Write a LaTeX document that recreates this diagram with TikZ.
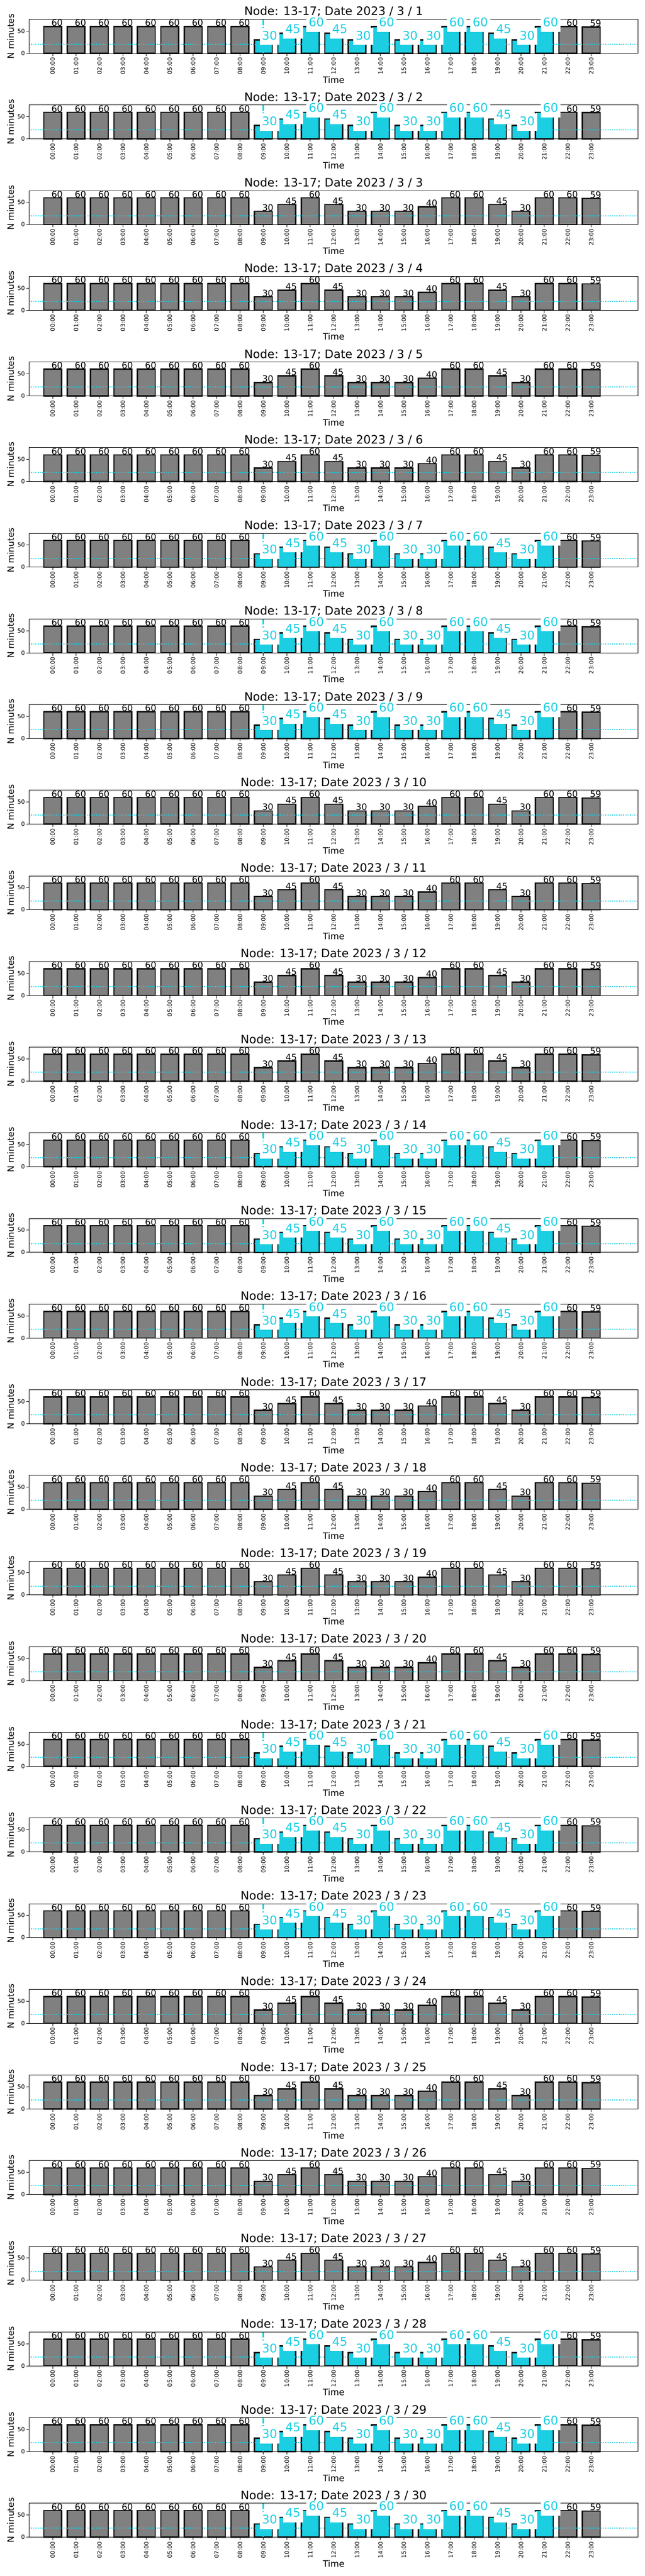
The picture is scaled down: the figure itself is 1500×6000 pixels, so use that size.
\documentclass[tikz,border=0pt]{standalone}
\usepackage{fontspec}
\setmainfont{DejaVu Sans}
\definecolor{tcyan}{RGB}{27,206,226}
\definecolor{bargray}{RGB}{128,128,128}
\definecolor{edgeblack}{RGB}{17,17,17}
\tikzset{
  barbox/.style={draw=edgeblack, line width=3pt},
  spine/.style={draw=black, line width=1.2pt},
  tickmark/.style={draw=black, line width=1.2pt},
  ticklab/.style={inner sep=0pt, font=\fontsize{13.5}{13.5}\selectfont},
  axlab/.style={inner sep=0pt, font=\fontsize{20.5}{20.5}\selectfont},
  titlelab/.style={inner sep=0pt, font=\fontsize{27}{27}\selectfont},
  blacklab/.style={inner sep=0pt, anchor=base west, font=\fontsize{20.5}{20.5}\selectfont},
  cyanlab/.style={anchor=base west, fill=white, text=tcyan, inner xsep=5.5pt, inner ysep=8pt, text height=20pt, text depth=4pt, font=\fontsize{27.8}{27.8}\selectfont},
  dotline/.style={draw=tcyan, line width=2.5pt, dash pattern=on 2pt off 2.2pt},
  vdashline/.style={draw=tcyan, line width=3.3pt, dash pattern=on 13.3pt off 4.4pt},
}
\newcommand\mydata{0/60/60,1/60/60,2/60/60,3/60/60,4/60/60,5/60/60,6/60/60,7/60/60,8/60/60,9/30/30,10/45/45,11/60/60,12/45/45,13/30/30,14/30/60,15/30/30,16/40/30,17/60/60,18/60/60,19/45/45,20/30/30,21/60/60,22/60/60,23/59/59}
\begin{document}
\begin{tikzpicture}[x=1pt,y=-1pt]
\useasboundingbox (0,0) rectangle (1500,6000);
\fill[white] (0,0) rectangle (1500,6000);
\foreach \d in {1,...,30}{
  \pgfmathsetmacro\yo{199.5*(\d-1)}
  \pgfmathtruncatemacro\w{mod(\d+1,7)}
  \pgfmathtruncatemacro\isc{and(\w>0,\w<4)}
  \begin{scope}[shift={(0,\yo)}]
    % bars
    \foreach \h/\g/\c in \mydata {
      \pgfmathsetmacro\xc{122.5+54.5*\h}
      \pgfmathtruncatemacro\hc{and(\isc==1,and(\h>8,\h<22))}
      \pgfmathtruncatemacro\v{ifthenelse(\isc==1,\c,\g)}
      \ifnum\hc=1 \def\barfill{tcyan}\else\def\barfill{bargray}\fi
      \draw[barbox, fill=\barfill] (\xc-20.65,124) rectangle (\xc+20.65,{124-1.034*\v});
    }
    % reference lines
    \draw[dotline] (68,103.3) -- (1485,103.3);
    \ifnum\isc=1
      \draw[vdashline] (613,45) -- (613,124);
    \fi
    % frame and ticks
    \draw[spine] (68,45) rectangle (1485,124);
    \draw[tickmark] (68,124) -- (61,124);
    \draw[tickmark] (68,72.3) -- (61,72.3);
    \node[ticklab, anchor=base east] (y0-\d) at (58,128.9) {0};
    \node[ticklab, anchor=base east] (y50-\d) at (58,77.2) {50};
    \foreach \h/\g/\c in \mydata {
      \pgfmathsetmacro\xc{122.5+54.5*\h}
      \draw[tickmark] (\xc,124) -- (\xc,130.5);
      \node[ticklab, rotate=90, anchor=east] (xt-\d-\h) at (\xc,134) {\ifnum\h<10 0\h:00\else\h:00\fi};
    }
    % black value labels
    \foreach \h/\g/\c in \mydata {
      \pgfmathsetmacro\xc{122.5+54.5*\h}
      \pgfmathtruncatemacro\hc{and(\isc==1,and(\h>8,\h<22))}
      \pgfmathtruncatemacro\v{ifthenelse(\isc==1,\c,\g)}
      \ifnum\hc=0
        \node[blacklab] (bl-\d-\h) at (\xc-3,{123-1.034*\v}) {\v};
      \fi
    }
    % cyan value labels with white boxes
    \ifnum\isc=1
      \foreach \h/\g/\c in \mydata {
        \pgfmathsetmacro\xc{122.5+54.5*\h}
        \ifnum\h>8 \ifnum\h<22
          \node[cyanlab] (cl-\d-\h) at (\xc-9,{124-1.034*\c}) {\c};
        \fi\fi
      }
    \fi
    % titles and axis labels
    \node[titlelab, anchor=base] (title-\d) at (776.5,36) {Node: 13-17; Date 2023 / 3 / \d};
    \node[axlab, anchor=base] (xl-\d) at (776.5,193.3) {Time};
    \node[axlab, rotate=90, anchor=base] (yl-\d) at (32.3,84.5) {N minutes};
  \end{scope}
}
\end{tikzpicture}
\end{document}
